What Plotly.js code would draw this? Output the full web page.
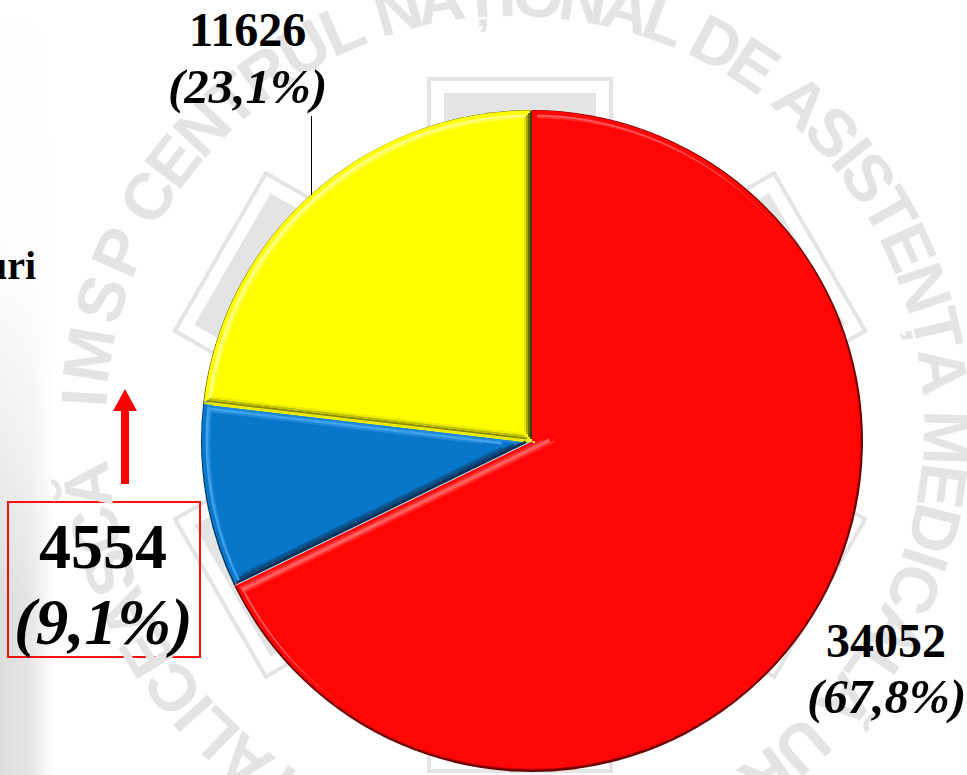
<!DOCTYPE html>
<html><head><meta charset="utf-8">
<script src="https://cdn.plot.ly/plotly-3.0.1.min.js"></script>
<style>html,body{margin:0;padding:0;background:#fff}
#c{width:967px;height:775px;background:linear-gradient(to bottom,#fff 0,rgba(255,255,255,.92) 35%,rgba(255,255,255,.55) 55%,rgba(255,255,255,0) 78%),linear-gradient(to right,#dcdcdc 0,#e6e6e6 30px,#fff 55px)}</style></head>
<body><div id="c"></div>
<script>
const categories = ['Roșu', 'Albastru', 'Galben'];
const values = [34052, 4554, 11626];
const percents = ['67,8%', '9,1%', '23,1%'];
const colors = ['#ff0606', '#0877c9', '#ffff00'];
const lightColors = ['#ff5c5c', '#3fa2ee', '#ffff80'];
const darkColors = ['#700000', '#06365c', '#5c5c00'];
const watermark = 'IMSP CENTRUL NAȚIONAL DE ASISTENȚĂ MEDICALĂ URGENTĂ PRESPITALICEASCĂ';
const sideNote = 'uri';

const W = 967, H = 775;
const fx = x => x / W, fy = y => 1 - y / H;
const serif = 'Liberation Serif, Times New Roman, serif';
const CX = 532, CY = 441, R = 331;
const WM = '#e4e4e4';

function lbl(x, y, text, size, italic) {
  return {xref:'paper', yref:'paper', x:fx(x), y:fy(y), xanchor:'center', yanchor:'middle', showarrow:false,
    text: italic ? '<i><b>'+text+'</b></i>' : '<b>'+text+'</b>', font:{family:serif, size:size, color:'#000'}};
}

/* watermark ring */
function ringLetters() {
  const cx = 515, cy = 425, r = 432, start = -87, end = 262, size = 66;
  const ctx = document.createElement('canvas').getContext('2d');
  ctx.font = 'bold ' + size + 'px "Liberation Sans"';
  const chars = Array.from(watermark);
  const w = chars.map(ch => ctx.measureText(ch).width);
  const pos = []; let s = 0;
  chars.forEach((ch, i) => { pos.push(s + w[i] / 2); s += w[i]; });
  const k = (end - start) / (pos[pos.length - 1] - pos[0]);
  const nudge = [[0,0.6],[3,4],[13,3.5],[22,1],[30,0],[99,0]];
  const shift = i => {
    for (let j = 0; j < nudge.length - 1; j++) {
      const [i0,d0] = nudge[j], [i1,d1] = nudge[j+1];
      if (i <= i1) return d0 + (d1-d0)*(i-i0)/(i1-i0);
    }
    return 0;
  };
  const out = [];
  chars.forEach((ch, i) => {
    if (ch === ' ') return;
    const a = start + (pos[i] - pos[0]) * k + shift(i), t = a * Math.PI / 180;
    const py = cy - r * Math.cos(t);
    if (py > H + 25) return;            /* wholly below the picture */
    out.push({xref:'paper', yref:'paper', x:fx(cx + r * Math.sin(t)), y:fy(py),
      xanchor:'center', yanchor:'middle', showarrow:false, text:'<b>'+ch+'</b>', textangle:a,
      font:{family:'Liberation Sans, Arial, sans-serif', size:size, color:WM}});
  });
  return out;
}

/* star of life behind the pie */
function arm(deg, hw, len) {
  const t = deg * Math.PI / 180, c = Math.cos(t), s = Math.sin(t), cx = 520, cy = 425;
  const p = [[-hw,-len],[hw,-len],[hw,len],[-hw,len]].map(([u,v]) =>
    [fx(cx + u*c - v*s), fy(cy + u*s + v*c)]);
  return 'M' + p.map(q => q.join(' ')).join(' L') + ' Z';
}
const star = [];
[0, 60, 120].forEach(d => {
  star.push({type:'path', layer:'below', xref:'paper', yref:'paper', path:arm(d, 91, 346), fillcolor:'rgba(0,0,0,0)', line:{color:WM, width:4}});
});
[0, 60, 120].forEach(d => {
  star.push({type:'path', layer:'below', xref:'paper', yref:'paper', path:arm(d, 84, 340), fillcolor:'#ffffff', line:{width:0}});
});
[0, 60, 120].forEach(d => {
  star.push({type:'path', layer:'below', xref:'paper', yref:'paper', path:arm(d, 76, 332), fillcolor:WM, line:{width:0}});
});

/* slice boundaries (from the values) with bevel bands; off > 0 is the counter-clockwise side */
const total = values.reduce((a, b) => a + b, 0);
const a1 = 360 * values[0] / total, a2 = a1 + 360 * values[1] / total;
function edge(angle, off, color, width, r0, r1) {
  const t = angle * Math.PI / 180, dx = Math.sin(t), dy = -Math.cos(t), nx = dy, ny = -dx;
  return {type:'line', layer:'above', xref:'paper', yref:'paper',
    x0:fx(CX + dx*r0 + nx*off), y0:fy(CY + dy*r0 + ny*off),
    x1:fx(CX + dx*r1 + nx*off), y1:fy(CY + dy*r1 + ny*off), line:{color:color, width:width}};
}
const bands = [
  edge(0, -2.5, colors[0], 5, 0, R-4), edge(a1, 3, colors[0], 6, 0, R-4),
  edge(0, 7, '#e4e400', 2, 10, R-7), edge(0, 5, '#a8a800', 2, 7, R-5), edge(0, 3, '#6e6e00', 2, 4, R-3), edge(0, 1, '#3c3c00', 2, 2, R-1),
  edge(a2, 8, '#1f88d8', 2, 50, R-10), edge(a2, 5.5, '#3fa2ee', 3, 30, R-7), edge(a2, 3, '#1f88d8', 2, 16, R-5),
  edge(a2, 0.5, '#e8e800', 2, 2, R-1), edge(a2, -2, '#8a8a00', 2, 5, R-3), edge(a2, -4, '#bcbc00', 2, 8, R-5), edge(a2, -6, '#eeee00', 2, 10, R-7),
  edge(a1, -7, '#0a5a9a', 2, 30, R-12), edge(a1, -4.5, '#0b4a80', 3, 18, R-8), edge(a1, -2, '#12304e', 2.5, 6, R-4), edge(a1, 0, '#c8dcea', 1, 0, R-1),
  edge(a1, 4, '#ff2a2a', 2, -10, R-3), edge(a1, 7, '#ff5c5c', 4, -16, R-5), edge(a1, 10, '#ff2a2a', 2, -20, R-8)
];

const annotations = ringLetters().concat([
  lbl(247, 30, String(values[2]), 48),
  lbl(247, 86, '('+percents[2]+')', 49, true),
  lbl(886, 640, String(values[0]), 48),
  lbl(886, 696, '('+percents[0]+')', 49, true),
  lbl(103, 546, String(values[1]), 64),
  lbl(103, 622, '('+percents[1]+')', 65, true),
  {xref:'paper', yref:'paper', x:fx(38), y:fy(265), xanchor:'right', yanchor:'middle', showarrow:false,
   text:'<b>'+sideNote+'</b>', font:{family:serif, size:40, color:'#000'}}
]);

const shapes = star.concat(bands, [
  {type:'line', xref:'paper', yref:'paper', x0:fx(311.5), x1:fx(311.5), y0:fy(116), y1:fy(195), line:{color:'#000', width:1}},
  {type:'rect', xref:'paper', yref:'paper', x0:fx(8), x1:fx(200), y0:fy(502), y1:fy(657), line:{color:'#ff1010', width:2}},
  {type:'rect', xref:'paper', yref:'paper', x0:fx(121), x1:fx(129), y0:fy(484), y1:fy(410), fillcolor:'#ff0000', line:{width:0}},
  {type:'path', xref:'paper', yref:'paper', path:`M ${fx(113)} ${fy(411)} L ${fx(125)} ${fy(389)} L ${fx(137)} ${fy(411)} Z`, fillcolor:'#ff0000', line:{width:0}}
]);

/* stacked, slightly shifted pies make the bevelled rim: light upper left, dark lower right */
function mix(a, b, f) {
  const h = s => [1,3,5].map(i => parseInt(s.substr(i,2),16));
  const A = h(a), B = h(b);
  return 'rgb(' + A.map((v,i) => Math.round(v + (B[i]-v)*f)).join(',') + ')';
}
function pie(r, ox, oy, cols) {
  return {type:'pie', labels:categories, values:values, sort:false, direction:'clockwise', rotation:0,
    marker:{colors:cols, line:{width:0}}, textinfo:'none', hoverinfo:'label+value', showlegend:false,
    domain:{x:[fx(CX+ox-r), fx(CX+ox+r)], y:[fy(CY+oy+r), fy(CY+oy-r)]}};
}
const traces = [
  pie(R, 0, 0, darkColors),
  pie(R-1.5, -0.5, -1, colors.map((c,i) => mix(darkColors[i], c, 0.7))),
  pie(R-2, -1, -1.5, colors),
  pie(R-5.5, -1, -1, lightColors),
  pie(R-6, 1, 0.5, colors.map((c,i) => mix(lightColors[i], c, 0.5))),
  pie(R-6, 3, 2.5, colors),
];
Plotly.newPlot('c', traces, {
  width:W, height:H, margin:{l:0,r:0,t:0,b:0}, paper_bgcolor:'rgba(0,0,0,0)', showlegend:false,
  annotations:annotations, shapes:shapes
}, {displayModeBar:false});
</script></body></html>
